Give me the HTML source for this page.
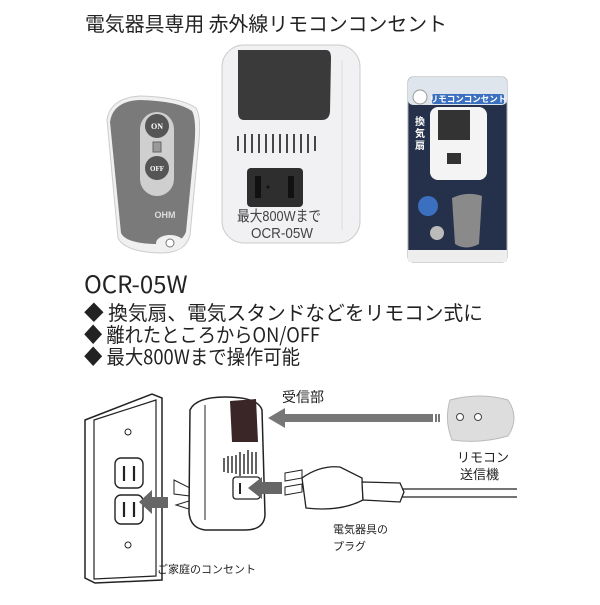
<!DOCTYPE html>
<html><head><meta charset="utf-8"><style>
body{margin:0;background:#fff;width:600px;height:600px;overflow:hidden}
</style></head><body>
<svg width="600" height="600" viewBox="0 0 600 600" xmlns="http://www.w3.org/2000/svg" font-family="Liberation Sans, Noto Sans CJK JP, sans-serif">
<rect width="600" height="600" fill="#fff"/>
<text x="85" y="31" font-size="20" fill="#222" font-family="Noto Sans CJK JP, sans-serif" textLength="362" lengthAdjust="spacingAndGlyphs">電気器具専用 赤外線リモコンコンセント</text>
<!-- remote -->
<path d="M107 120 Q110 98 140 96 Q180 97 196 108 Q202 118 198 150 L190 235 Q186 253 160 253 Q125 252 118 238 Z" fill="#f0f0f0" stroke="#ccc"/>
<path d="M110 122 Q113 101 140 100 Q178 101 192 111 Q197 120 194 150 L186 232 Q181 245 160 244 Q126 244 121 233 Z" fill="#7a7a7a"/>
<rect x="140" y="112" width="34" height="84" rx="17" fill="#cfcfcf"/>
<circle cx="157" cy="126" r="12" fill="#555"/><text x="157" y="129" font-size="8" fill="#fff" text-anchor="middle" font-family="Liberation Serif,serif" font-weight="bold">ON</text>
<circle cx="157" cy="168" r="12" fill="#555"/><text x="157" y="171" font-size="7" fill="#fff" text-anchor="middle" font-family="Liberation Serif,serif" font-weight="bold">OFF</text>
<rect x="153" y="142" width="8" height="10" fill="#999" stroke="#666"/>
<text x="165" y="218" font-size="9" fill="#ddd" text-anchor="middle" font-weight="bold">OHM</text>
<ellipse cx="170" cy="243" rx="14" ry="8" fill="#f0f0f0"/>
<circle cx="170" cy="243" r="4" fill="#fff" stroke="#777"/>
<!-- device -->
<rect x="222" y="45" width="138" height="198" rx="22" fill="#f1f1f3" stroke="#ccc"/>
<line x1="342" y1="60" x2="342" y2="230" stroke="#ddd"/>
<path d="M238 50 L326 50 Q331 50 331 58 L330 112 Q329 120 322 120 L244 120 Q238 120 238 112 Z" fill="#3a3a3a"/>
<g stroke="#333" stroke-width="1.8">
<line x1="238" y1="136" x2="238" y2="151"/><line x1="245" y1="134" x2="245" y2="153"/><line x1="252" y1="134" x2="252" y2="153"/><line x1="259" y1="134" x2="259" y2="153"/><line x1="266" y1="134" x2="266" y2="153"/><line x1="273" y1="134" x2="273" y2="153"/><line x1="280" y1="134" x2="280" y2="153"/><line x1="287" y1="134" x2="287" y2="153"/><line x1="294" y1="134" x2="294" y2="153"/><line x1="301" y1="134" x2="301" y2="153"/><line x1="308" y1="134" x2="308" y2="153"/><line x1="315" y1="136" x2="315" y2="151"/>
</g>
<rect x="247" y="168" width="56" height="39" rx="4" fill="#2e2e2e"/>
<rect x="255" y="176" width="6" height="22" fill="#111"/><rect x="288" y="176" width="6" height="22" fill="#111"/>
<circle cx="268" cy="187" r="1.5" fill="#111"/>
<text x="237" y="221" font-size="15" fill="#444" textLength="84" lengthAdjust="spacingAndGlyphs">最大800Wまで</text>
<text x="251" y="238" font-size="15" fill="#444" textLength="62" lengthAdjust="spacingAndGlyphs">OCR-05W</text>
<!-- package -->
<rect x="408" y="77" width="99" height="185" rx="5" fill="#25304a" stroke="#aaa"/>
<rect x="408" y="77" width="99" height="28" rx="5" fill="#dfe5ec"/>
<rect x="408" y="250" width="99" height="12" fill="#eee"/>
<circle cx="420" cy="97" r="7" fill="#fff" stroke="#999"/>
<rect x="432" y="94" width="72" height="10" rx="2" fill="#3b6fc0"/>
<text x="468" y="102" font-size="8.5" fill="#fff" text-anchor="middle" font-weight="bold" font-family="Noto Sans CJK JP, sans-serif">リモコンコンセント</text>
<rect x="430" y="107" width="57" height="73" rx="8" fill="#f4f4f4"/>
<rect x="438" y="110" width="32" height="30" fill="#333"/>
<rect x="447" y="153" width="14" height="11" fill="#333"/>
<text x="415" y="125" font-size="10" fill="#fff" font-weight="bold" font-family="Noto Sans CJK JP, sans-serif">換</text>
<text x="415" y="137" font-size="10" fill="#fff" font-weight="bold" font-family="Noto Sans CJK JP, sans-serif">気</text>
<text x="415" y="149" font-size="10" fill="#fff" font-weight="bold" font-family="Noto Sans CJK JP, sans-serif">扇</text>
<circle cx="428" cy="206" r="10" fill="#3b6fc0"/>
<path d="M452 198 Q467 191 482 196 L479 244 Q466 251 455 244 Z" fill="#8a8a8a"/>
<circle cx="437" cy="233" r="7" fill="#bbb"/>
<!-- texts -->
<g font-family="Noto Sans CJK JP, sans-serif" fill="#222">
<text x="84" y="293" font-size="24">OCR-05W</text>
<text x="84" y="320" font-size="20" textLength="399" lengthAdjust="spacingAndGlyphs">◆ 換気扇、電気スタンドなどをリモコン式に</text>
<text x="84" y="342" font-size="20" textLength="236" lengthAdjust="spacingAndGlyphs">◆ 離れたところからON/OFF</text>
<text x="84" y="364" font-size="20" textLength="216" lengthAdjust="spacingAndGlyphs">◆ 最大800Wまで操作可能</text>
</g>
<!-- wall plate -->
<path d="M85 420 L152 394 L162 398 L162 580 L95 583 L85 578 Z" fill="#fff" stroke="#222" stroke-width="1.5"/>
<path d="M94 420 L156 400 L156 576 L94 579 Z" fill="#fff" stroke="#222" stroke-width="1.2"/>
<circle cx="128" cy="432" r="3" fill="none" stroke="#222"/><circle cx="128" cy="545" r="3" fill="none" stroke="#222"/>
<rect x="115" y="458" width="28" height="30" rx="6" fill="#fff" stroke="#222" stroke-width="1.4"/>
<line x1="124" y1="466" x2="124" y2="481" stroke="#222" stroke-width="2.2"/><line x1="134" y1="466" x2="134" y2="481" stroke="#222" stroke-width="2.2"/>
<rect x="115" y="495" width="28" height="29" rx="6" fill="#fff" stroke="#222" stroke-width="1.4"/>
<line x1="124" y1="502" x2="124" y2="517" stroke="#222" stroke-width="2.2"/><line x1="134" y1="502" x2="134" y2="517" stroke="#222" stroke-width="2.2"/>
<path d="M168 497 L168 508 L152 508 L152 514 L139 502 L152 490 L152 497 Z" fill="#666"/>
<!-- device drawing -->
<path d="M174 480 L190 488 L190 496 L174 494 Z M176 505 L192 500 L192 510 Z" fill="#fff" stroke="#222"/>
<path d="M190 410 Q196 397 225 397 Q258 397 262 410 L265 515 Q264 530 245 530 L205 530 Q190 528 189 512 Z" fill="#fff" stroke="#222" stroke-width="1.5"/>
<path d="M205 405 L205 520" stroke="#222" stroke-width="1"/>
<path d="M230 401 L256 399 L258 442 L232 442 Z" fill="#3a2626"/>
<g stroke="#222" stroke-width="1.4"><line x1="224" y1="458" x2="224" y2="472"/><line x1="228" y1="456" x2="228" y2="473"/><line x1="232" y1="456" x2="232" y2="473"/><line x1="236" y1="455" x2="236" y2="474"/><line x1="240" y1="452" x2="240" y2="476"/><line x1="244" y1="454" x2="244" y2="474"/><line x1="248" y1="450" x2="248" y2="474"/><line x1="252" y1="452" x2="252" y2="474"/><line x1="256" y1="452" x2="256" y2="474"/></g>
<rect x="233" y="477" width="27" height="22" rx="3" fill="#fff" stroke="#222" stroke-width="1.3"/>
<line x1="240" y1="483" x2="240" y2="494" stroke="#222" stroke-width="2"/>
<path d="M282 482 L282 494 L262 494 L262 499 L248 488 L262 477 L262 482 Z" fill="#666"/>
<!-- IR arrow -->
<rect x="282" y="414" width="151" height="8" fill="#777"/>
<path d="M268 418 L285 408 L285 428 Z" fill="#777"/>
<rect x="435" y="414" width="2" height="8" fill="#777"/><rect x="438" y="414" width="2" height="8" fill="#777"/>
<path d="M450 400 Q480 392 508 400 Q520 418 508 436 Q480 444 452 440 Q444 420 450 400 Z" fill="#ddd" stroke="#bbb"/>
<circle cx="460" cy="417" r="3.5" fill="#fff" stroke="#444"/><circle cx="478" cy="417" r="3.5" fill="#fff" stroke="#444"/>
<g font-family="Noto Sans CJK JP, sans-serif" fill="#222">
<text x="282" y="402" font-size="14">受信部</text>
<text x="457" y="462" font-size="13">リモコン</text>
<text x="460" y="479" font-size="13">送信機</text>
<text x="333" y="533" font-size="11">電気器具の</text>
<text x="333" y="550" font-size="11">プラグ</text>
<text x="157" y="573" font-size="11">ご家庭のコンセント</text>
</g>
<!-- plug -->
<path d="M285 473 L302 470 L302 478 L285 481 Z M285 487 L302 484 L302 492 L285 495 Z" fill="#fff" stroke="#222"/>
<path d="M302 478 Q320 465 340 467 L362 478 L363 500 Q340 512 306 508 Z" fill="#fff" stroke="#222" stroke-width="1.3"/>
<path d="M362 482 L400 483 L404 492 L400 502 L363 500 Z" fill="#fff" stroke="#222" stroke-width="1.3"/>
<line x1="402" y1="489" x2="517" y2="489" stroke="#222" stroke-width="1.3"/>
<line x1="402" y1="497" x2="517" y2="497" stroke="#222" stroke-width="1.3"/>
</svg>
</body></html>
